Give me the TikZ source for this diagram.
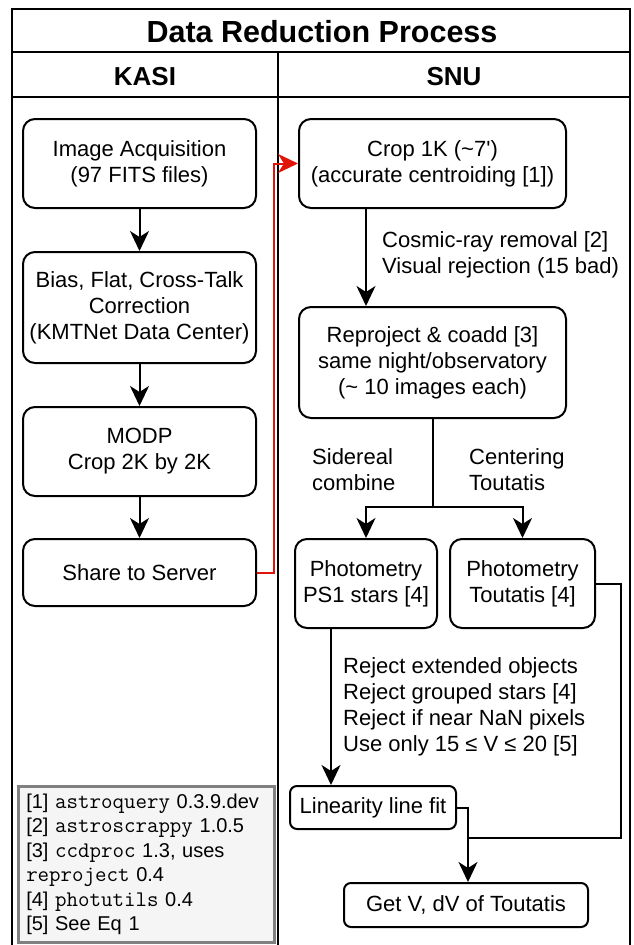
\documentclass[tikz,border=0pt]{standalone}
\usepackage{fontspec}
\setmainfont{Liberation Sans}
\usetikzlibrary{arrows.meta}
\definecolor{redarrow}{RGB}{225,20,10}
\definecolor{legfill}{RGB}{245,245,245}
\definecolor{legdraw}{RGB}{128,128,128}
\newcommand\bodyfont{\fontsize{22}{26}\selectfont}
\newcommand\pkgname[1]{{\fontsize{22.3}{24.4}\selectfont\ttfamily #1}}
\tikzset{
  box/.style={draw=black, line width=2pt, rounded corners=12pt, align=center, inner sep=0pt, font=\bodyfont},
  flow/.style={line width=2pt, -{Stealth[length=20pt,width=19pt,inset=6pt]}},
  conn/.style={line width=2pt},
  lbl/.style={anchor=west, align=left, inner sep=0pt, font=\bodyfont},
  frame/.style={line width=2pt, draw=black},
}
\begin{document}
\begin{tikzpicture}[x=1pt,y=-1pt]
\useasboundingbox (0,0) rectangle (633,945);
% outer frame and swimlanes
\draw[frame] (12,950) -- (12,9) -- (630,9) -- (630,950);
\draw[frame] (12,52) -- (630,52);
\draw[frame] (12,97) -- (630,97);
\draw[frame] (278,52) -- (278,950);
\node[font=\fontsize{30.5}{36}\selectfont\bfseries, inner sep=0pt] (title) at (322,32) {Data Reduction Process};
\node[font=\fontsize{26}{30}\selectfont\bfseries, inner sep=0pt] (kasi) at (145,77) {KASI};
\node[font=\fontsize{26}{30}\selectfont\bfseries, inner sep=0pt] (snu) at (454,77) {SNU};
% KASI boxes
\node[box, minimum width=233pt, minimum height=89pt] (acq) at (139.5,163.5) {Image Acquisition\\(97 FITS files)};
\node[box, minimum width=233pt, minimum height=111pt] (bias) at (139.5,307.5) {Bias, Flat, Cross-Talk\\Correction\\(KMTNet Data Center)};
\node[box, minimum width=233pt, minimum height=89pt] (modp) at (139.5,451.5) {MODP\\Crop 2K by 2K};
\node[box, minimum width=233pt, minimum height=67pt] (share) at (139.5,572.5) {Share to Server};
% SNU boxes
\node[box, minimum width=267pt, minimum height=89pt] (crop) at (432.5,163.5) {Crop 1K (\textasciitilde7\textquotesingle)\\(accurate centroiding {[1]})};
\node[box, minimum width=267pt, minimum height=111pt] (reproj) at (432.5,362.5) {Reproject \& coadd [3]\\same night/observatory\\(\textasciitilde{} 10 images each)};
\node[box, minimum width=142pt, minimum height=89pt] (ps1) at (366,583.5) {Photometry\\PS1 stars [4]};
\node[box, minimum width=145pt, minimum height=89pt] (tout) at (522.5,583.5) {Photometry\\Toutatis [4]};
\node[box, rounded corners=7pt, minimum width=166pt, minimum height=43pt] (lin) at (373,807.5) {Linearity line fit};
\node[box, rounded corners=7pt, minimum width=244pt, minimum height=44pt] (getv) at (466,905) {Get V, dV of Toutatis};
% labels
\node[lbl] (cosmic) at (382,255) {Cosmic-ray removal [2]\\Visual rejection (15 bad)};
\node[lbl] (sidereal) at (312,470) {Sidereal\\combine};
\node[lbl] (centering) at (469,470) {Centering\\Toutatis};
\node[lbl] (reject) at (343,707) {Reject extended objects\\Reject grouped stars [4]\\Reject if near NaN pixels\\Use only 15 ≤ V ≤ 20 [5]};
% legend
\node[draw=legdraw, fill=legfill, line width=2.5pt, minimum width=256pt, minimum height=156pt, inner xsep=8pt, inner ysep=0pt, anchor=north west, text width=240pt, align=left, font=\fontsize{20}{24.4}\selectfont] (legend) at (17,785) {{[1]} \pkgname{astroquery} 0.3.9.dev\\{[2]} \pkgname{astroscrappy} 1.0.5\\{[3]} \pkgname{ccdproc} 1.3, uses\\\pkgname{reproject} 0.4\\{[4]} \pkgname{photutils} 0.4\\{[5]} See Eq 1};
% connectors
\draw[flow] (acq) -- (bias);
\draw[flow] (bias) -- (modp);
\draw[flow] (modp) -- (share);
\draw[flow, draw=redarrow] (share.east) -- ++(17,0) |- (crop.west);
\draw[flow] (crop.south -| ps1.north) -- (reproj.north -| ps1.north);
\draw[conn] (reproj.south) -- ++(0,88) coordinate (split);
\draw[flow] (split) -| (ps1.north);
\draw[flow] (split) -| (tout.north);
\draw[flow] ([xshift=-35pt]ps1.south) -- ([xshift=-35pt]ps1.south |- lin.north);
\draw[flow] (lin.east) -- ++(11,0) coordinate (j) -- (j |- getv.north);
\coordinate (m) at (467,838);
\draw[conn] (tout.east) -- ++(25,0) |- (m);
\end{tikzpicture}
\end{document}
